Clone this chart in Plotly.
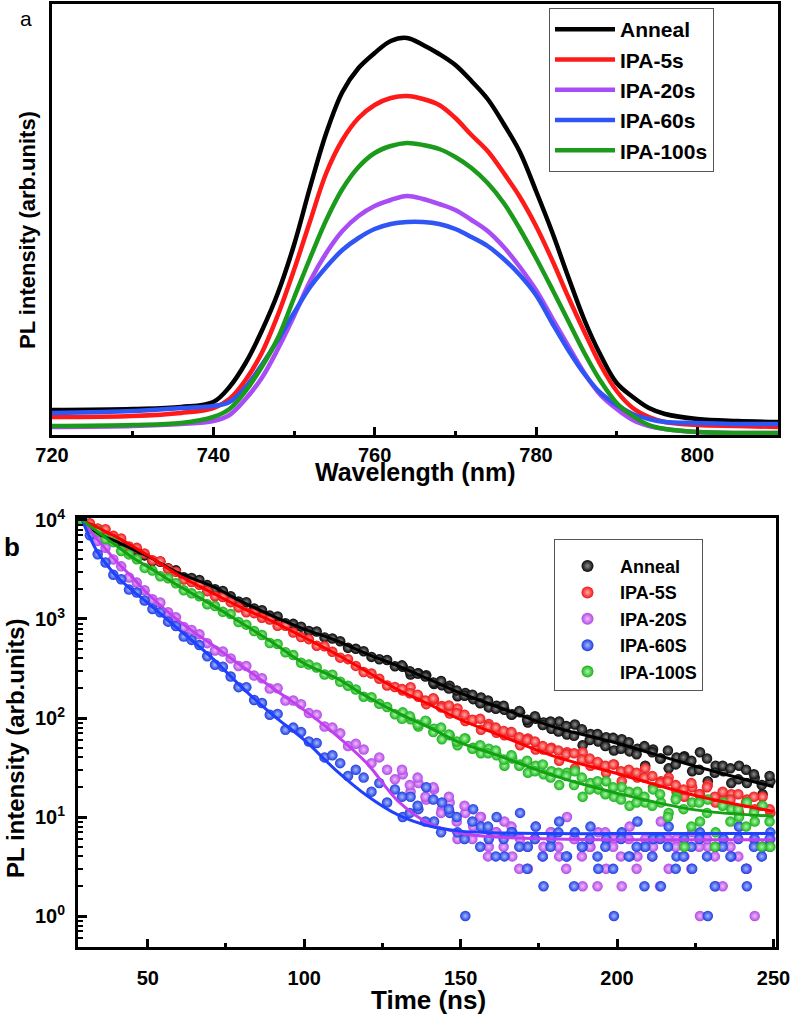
import plotly.graph_objects as go

W, H = 796, 1018


# pixel position -> paper fraction
def px(x):
    return x / W


def py(y):
    return 1 - y / H


FONT = "Arial, 'Liberation Sans', sans-serif"

# ---- panel a: steady-state PL spectra ----
wavelength = [720, 730, 736, 740, 742, 744, 746, 748, 750, 752, 754, 756, 758, 760, 762, 764, 766, 768,
              770, 772, 774, 776, 778, 780, 782, 784, 786, 788, 790, 792, 794, 796, 800, 805, 810]
pl_anneal = [25, 26, 28, 33, 48, 72, 104, 142, 190, 248, 302, 343, 367, 382, 394, 397, 390, 381,
             370, 354, 336, 311, 283, 244, 203, 158, 115, 80, 52, 38, 27, 21, 16, 14, 13]
pl_ipa5 = [18, 19, 22, 27, 36, 55, 82, 120, 165, 214, 262, 295, 317, 330, 337, 339, 336, 330,
           317, 300, 284, 262, 238, 209, 175, 138, 103, 70, 44, 27, 18, 13, 10, 9, 8]
pl_ipa20 = [8, 9, 11, 14, 20, 36, 57, 86, 119, 154, 182, 204, 219, 229, 235, 239, 236, 231,
            225, 215, 204, 188, 168, 145, 117, 89, 62, 40, 26, 15, 9, 6, 3, 2, 2]
pl_ipa60 = [22, 24, 27, 29, 33, 48, 70, 95, 122, 148, 168, 185, 197, 206, 211, 213, 213, 211,
            206, 198, 189, 176, 160, 140, 112, 85, 61, 42, 30, 21, 16, 13, 12, 11, 11]
pl_ipa100 = [9, 10, 12, 18, 26, 44, 68, 97, 137, 177, 215, 246, 268, 282, 289, 292, 290, 286,
             278, 267, 252, 232, 206, 177, 146, 114, 82, 54, 32, 19, 10, 6, 3, 2, 2]

# ---- panel b: TRPL decays (points) ----
t_ns = [29, 31.5, 34, 36.5, 39, 41.5, 44, 46.5, 49, 51.5, 54, 56.5, 59, 61.5, 64, 66.5, 69, 71.5,
        74, 76.5, 79, 81.5, 84, 86.5, 89, 91.5, 94, 96.5, 99, 101.5, 104, 106.5, 109, 111.5, 114,
        116.5, 119, 121.5, 124, 126.5, 129, 131.5, 134, 136.5, 139, 141.5, 144, 146.5, 149, 151.5,
        154, 156.5, 159, 161.5, 164, 166.5, 169, 171.5, 174, 176.5, 179, 181.5, 184, 186.5, 189,
        191.5, 194, 196.5, 199, 201.5, 204, 206.5, 209, 211.5, 214, 216.5, 219, 221.5, 224, 226.5,
        229, 231.5, 234, 236.5, 239, 241.5, 244, 246.5, 249]
trpl_anneal = [10000, 8420, 7220, 7110, 6240, 5920, 4990, 4890, 4390, 3840,
               3790, 3260, 3100, 2640, 2600, 2480, 2200, 2000, 1920, 1700,
               1500, 1480, 1277, 1224, 1082, 1061, 907, 893, 837, 755,
               748, 652, 634, 597, 513, 500, 473, 414, 392, 385,
               333, 329, 275, 283, 271, 220, 214, 212, 166, 179,
               155, 161, 128, 133, 121, 109, 114, 90, 98, 90,
               78, 92, 68, 86, 53, 69, 58, 64, 47, 61,
               46, 49, 33, 48, 39, 31, 40, 41, 29, 45,
               23, 33, 29, 22, 33, 22, 25, 17, 23]
trpl_ipa5 = [10000, 9260, 8200, 8070, 6930, 6500, 5410, 5230, 4590, 3930,
             3840, 3220, 2990, 2500, 2360, 2210, 1910, 1700, 1670, 1480,
             1310, 1169, 1146, 1029, 990, 855, 854, 730, 656, 626,
             537, 531, 466, 407, 393, 336, 291, 281, 249, 213,
             206, 189, 205, 164, 138, 153, 132, 111, 125, 93,
             95, 76, 87, 71, 67, 67, 53, 62, 48, 48,
             50, 37, 45, 31, 45, 33, 35, 28, 34, 23,
             29, 25, 31, 20, 23, 25, 18, 16, 20, 17,
             21, 14, 15, 17, 11, 15, 12, 16, 11]
trpl_ipa20 = [10000, 8100, 6150, 5250, 4000, 3400, 2620, 2330, 1950, 1580,
              1470, 1170, 1040, 830, 775, 700, 570, 480, 470, 400,
              335, 335, 268, 252, 198, 200, 150, 150, 138, 112,
              108, 82, 80, 70, 52, 55, 48, 35, 40, 30,
              24, 27, 18, 22, 15, 19, 12, 14, 6, 11,
              8, 10, 5, 7, 9, 4, 6, 3, 8, 5,
              7, 4, 10, 6, 2, 5, 7, 3, 6, 2,
              8, 4, 6, 5, 9, 3, 6, 4, 7, 1,
              5, 2, 6, 4, 8, 3, 1, 5, 6]
trpl_ipa60 = [10000, 7000, 4500, 3720, 2800, 2520, 1980, 1850, 1540, 1260,
              1170, 940, 850, 665, 615, 545, 420, 345, 330, 262,
              205, 205, 152, 142, 108, 110, 76, 80, 72, 58,
              56, 40, 42, 35, 26, 30, 25, 18, 22, 14,
              19, 10, 16, 12, 20, 9, 14, 11, 7, 1,
              12, 8, 6, 10, 4, 7, 11, 5, 8, 2,
              6, 9, 4, 7, 5, 8, 3, 6, 1, 7,
              4, 9, 5, 6, 2, 8, 4, 6, 3, 7,
              1, 5, 6, 4, 8, 2, 6, 5, 7]
trpl_ipa100 = [10000, 8360, 7740, 6430, 5970, 4860, 4490, 4010, 3280, 3080,
               2700, 2580, 2300, 1950, 1820, 1700, 1410, 1350, 1180, 1120,
               931, 877, 755, 690, 572, 558, 461, 432, 361, 346,
               324, 275, 274, 232, 212, 194, 164, 162, 139, 129,
               109, 114, 97, 82, 92, 78, 61, 67, 53, 62,
               50, 44, 49, 42, 33, 39, 34, 28, 33, 27,
               29, 21, 28, 29, 16, 22, 19, 23, 16, 20,
               13, 18, 14, 19, 14, 11, 16, 5, 14, 9,
               15, 7, 14, 12, 10, 14, 9, 13, 5]

# extra channels in the noisy tail (between the ones above)
t_tail = [131.25, 133.75, 136.25, 138.75, 141.25, 143.75, 146.25, 148.75, 151.25, 153.75,
          156.25, 158.75, 161.25, 163.75, 166.25, 168.75, 171.25, 173.75, 176.25, 178.75,
          181.25, 183.75, 186.25, 188.75, 191.25, 193.75, 196.25, 198.75, 201.25, 203.75,
          206.25, 208.75, 211.25, 213.75, 216.25, 218.75, 221.25, 223.75, 226.25, 228.75,
          231.25, 233.75, 236.25, 238.75, 241.25, 243.75, 246.25, 248.75]
tail_anneal = [340, 296, 282, 262, 228, 236, 198, 190, 168, 172, 141, 150, 124, 133, 108, 118, 96, 104,
               85, 92, 73, 83, 66, 77, 60, 69, 52, 63, 49, 57, 43, 52, 45, 39, 47, 34, 40, 37, 30, 39,
               28, 33, 31, 24, 30, 27, 21, 26]
tail_ipa5 = [196, 178, 172, 150, 158, 128, 134, 112, 108, 96, 98, 82, 80, 74, 72, 64, 60, 58, 52, 49,
             47, 43, 44, 38, 39, 36, 33, 34, 29, 30, 28, 25, 26, 22, 23, 21, 19, 22, 17, 20,
             16, 18, 15, 17, 14, 16, 13, 12]
tail_ipa20 = [30, 21, 25, 16, 20, 11, 16, 9, 13, 6, 10, 4, 7, 5, 8, 3, 5, 6, 4, 7,
              5, 3, 6, 4, 5, 2, 7, 5, 4, 6, 3, 5, 4, 2, 6, 5, 4, 3, 5, 6, 4, 2, 5, 4, 3, 6, 4, 5]
tail_ipa60 = [16, 11, 13, 9, 15, 7, 12, 10, 6, 9, 5, 8, 4, 6, 7, 5, 3, 6, 4, 5,
              7, 4, 2, 5, 6, 4, 5, 3, 6, 4, 5, 2, 4, 6, 5, 3, 4, 5, 6, 4, 2, 5, 4, 6, 3, 5, 4, 6]
tail_ipa100 = [98, 104, 86, 94, 72, 80, 68, 58, 62, 49, 53, 44, 47, 38, 42, 33, 37, 29, 34, 25,
               28, 26, 21, 25, 19, 23, 17, 20, 15, 18, 14, 16, 13, 17, 10, 15, 12, 8, 14, 11,
               5, 13, 9, 12, 8, 11, 5, 9]

# ---- panel b: fitted curves ----
fit_t = [29, 31, 34, 37, 40, 45, 50, 60, 70, 80, 90, 100, 110, 120, 130, 140, 150, 160, 180, 200, 225, 250]
fit_anneal = [10000, 8600, 7400, 6600, 6050, 5100, 4300, 2900, 2180, 1500, 1070, 790, 610, 445, 335, 245,
              178, 136, 81, 55.6, 32.6, 20.2]
fit_ipa5 = [10000, 9300, 8400, 7500, 6750, 5450, 4400, 2750, 1880, 1300, 940, 650, 445, 295, 193, 137,
            96, 72, 41, 27.5, 16.5, 11.4]
fit_ipa20 = [10000, 8300, 6300, 4900, 3800, 2650, 1800, 950, 565, 335, 200, 120, 68, 35, 14.5, 8.6,
             6.9, 6.3, 6.0, 5.9, 5.9, 5.9]
fit_ipa60 = [10000, 7200, 4700, 3500, 2700, 1950, 1450, 780, 420, 205, 107, 60, 30, 16.5, 10.5, 8.1,
             7.2, 6.95, 6.8, 6.8, 6.8, 6.8]
fit_ipa100 = [10000, 8900, 7600, 6450, 5500, 4200, 3380, 2150, 1420, 910, 575, 355, 255, 165, 112, 80,
              56, 44, 26, 17.4, 11.8, 10.2]

log_major = [1, 10, 100, 1000, 10000]
log_labels = ['10<sup>0</sup>', '10<sup>1</sup>', '10<sup>2</sup>', '10<sup>3</sup>', '10<sup>4</sup>']
log_minor = [0.6, 0.7, 0.8, 0.9, 2, 3, 4, 5, 6, 7, 8, 9, 20, 30, 40, 50, 60, 70, 80, 90,
             200, 300, 400, 500, 600, 700, 800, 900, 2000, 3000, 4000, 5000, 6000, 7000, 8000, 9000]

names_a = ['Anneal', 'IPA-5s', 'IPA-20s', 'IPA-60s', 'IPA-100s']
names_b = ['Anneal', 'IPA-5S', 'IPA-20S', 'IPA-60S', 'IPA-100S']
line_colors = ['#000000', '#ff1a1a', '#a84cf5', '#2f55f5', '#1c9a1c']
dot_colors = ['#050505', '#ee1414', '#b248e4', '#1c3ce0', '#18b018']
dot_light = ['#8c8c8c', '#ffa8a8', '#eebcff', '#a8b8ff', '#a8f8a8']
fit_colors = ['#000000', '#ff0000', '#c040f0', '#2040ff', '#13a013']

spectra = [pl_anneal, pl_ipa5, pl_ipa20, pl_ipa60, pl_ipa100]
decays = [trpl_anneal, trpl_ipa5, trpl_ipa20, trpl_ipa60, trpl_ipa100]
tails = [tail_anneal, tail_ipa5, tail_ipa20, tail_ipa60, tail_ipa100]
fits = [fit_anneal, fit_ipa5, fit_ipa20, fit_ipa60, fit_ipa100]

data = []
for name, y, c in zip(names_a, spectra, line_colors):
    data.append(go.Scatter(x=wavelength, y=y, name=name, mode='lines', line={'color': c, 'width': 4.5, 'shape': 'spline'},
                           xaxis='x', yaxis='y', legend='legend'))

for name, y, yt, c, cl in zip(names_b, decays, tails, dot_colors, dot_light):
    data.append(go.Scatter(x=t_ns + t_tail, y=y + yt, name=name, mode='markers',
                           marker={'color': c, 'size': 10.5, 'line': {'width': 0},
                                   'gradient': {'type': 'radial', 'color': cl}},
                           xaxis='x2', yaxis='y2', legend='legend2'))

for y, c in zip(fits, fit_colors):
    data.append(go.Scatter(x=fit_t, y=y, mode='lines', line={'color': c, 'width': 3, 'shape': 'spline'},
                           showlegend=False, xaxis='x2', yaxis='y2'))

tickfont = {'family': FONT, 'size': 20, 'color': 'black', 'weight': 'bold'}
frame = dict(showline=True, mirror=True, linecolor='black', linewidth=3, showgrid=False, zeroline=False,
             automargin=False)


def label(text, x, y, size, angle=0):
    return dict(text=text, x=px(x), y=py(y), xref='paper', yref='paper', xanchor='center', yanchor='middle',
                showarrow=False, textangle=angle, font={'size': size, 'color': 'black'})


layout = go.Layout(
    width=W, height=H, paper_bgcolor='white', plot_bgcolor='white',
    margin={'l': 0, 'r': 0, 't': 0, 'b': 0, 'pad': 0}, font={'family': FONT, 'color': 'black'},
    xaxis=dict(domain=[px(52), px(778)], range=[720, 810], anchor='y', tick0=720, dtick=20,
               ticks='inside', ticklen=8, tickwidth=3, tickcolor='black', tickfont=tickfont,
               minor={'dtick': 10, 'ticks': 'inside', 'ticklen': 4, 'tickwidth': 3, 'tickcolor': 'black'},
               **frame),
    yaxis=dict(domain=[py(435), py(4)], range=[0, 431], anchor='x', showticklabels=False, ticks='', **frame),
    xaxis2=dict(domain=[px(78), px(776)], range=[27.7, 250.8], anchor='y2', tick0=0, dtick=50,
                ticks='inside', ticklen=8, tickwidth=3, tickcolor='black', tickfont=tickfont,
                ticklabelstandoff=11,
                minor={'dtick': 25, 'ticks': 'inside', 'ticklen': 4, 'tickwidth': 3, 'tickcolor': 'black'},
                **frame),
    yaxis2=dict(domain=[py(947), py(518)], type='log', range=[-0.313, 4.02], anchor='x2',
                tickmode='array', tickvals=log_major, ticktext=log_labels,
                ticks='inside', ticklen=9, tickwidth=3, tickcolor='black', tickfont=tickfont,
                ticklabelstandoff=6,
                minor={'tickmode': 'array', 'tickvals': log_minor, 'ticks': 'inside', 'ticklen': 5,
                       'tickwidth': 2, 'tickcolor': 'black'},
                **frame),
    legend=dict(x=px(549), y=py(8), xanchor='left', yanchor='top', bgcolor='white', bordercolor='#555',
                borderwidth=1, font={'family': FONT, 'size': 21, 'weight': 'bold'}, tracegroupgap=0,
                itemwidth=60),
    legend2=dict(x=px(554), y=py(539), xanchor='left', yanchor='top', bgcolor='white', bordercolor='#555',
                 borderwidth=1, font={'family': FONT, 'size': 18, 'weight': 'bold'}, itemsizing='constant',
                 itemwidth=55, title={'text': ' ', 'font': {'size': 6}}),
    annotations=[
        label('a', 26, 18, 21),
        label('<b>b</b>', 12, 547, 26),
        label('<b>PL intensity (arb.units)</b>', 27, 230, 22, -90),
        label('<b>PL intensity (arb.units)</b>', 15, 748, 24, -90),
        label('<b>Wavelength (nm)</b>', 415, 472, 25),
        label('<b>Time (ns)</b>', 428, 1000, 26),
    ],
)

fig = go.Figure(data=data, layout=layout)
# the page's default body margin would shift the figure by 8 px
fig.write_html("out.html", config={'displayModeBar': False},
               post_script="document.body.style.margin = '0px';")
